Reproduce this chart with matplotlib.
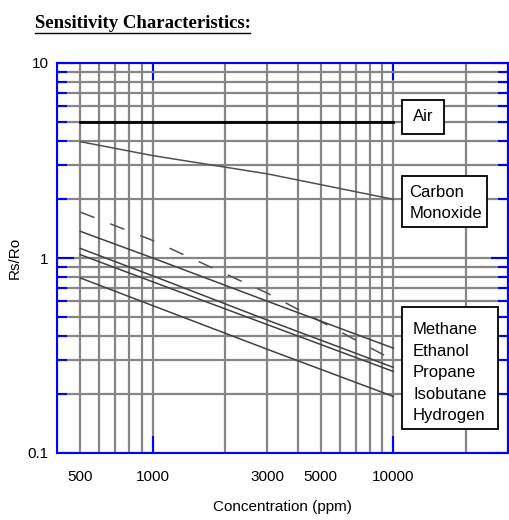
import matplotlib
matplotlib.use("Agg")
from matplotlib import pyplot as plt
from matplotlib.patches import Rectangle
from matplotlib.lines import Line2D
from matplotlib.ticker import LogLocator, FuncFormatter, NullFormatter
import numpy as np

# concentration points (ppm) and Rs/Ro readings
conc = [500, 1000, 3000, 10000]
air = [5.0, 5.0, 5.0, 5.0]
carbon_monoxide = [3.95, 3.35, 2.7, 2.0]
curve_dashed = [1.72, 1.23, 0.66, 0.30]
curve_1 = [1.37, 1.0, 0.60, 0.345]
curve_2 = [1.12, 0.81, 0.48, 0.275]
curve_3 = [1.04, 0.755, 0.455, 0.262]
curve_4 = [0.79, 0.57, 0.34, 0.195]

xticks_shown = [500, 1000, 3000, 5000, 10000]
gas_labels = ['Methane', 'Ethanol', 'Propane', 'Isobutane', 'Hydrogen']

plt.rcParams['font.family'] = ['Liberation Sans', 'DejaVu Sans']

fig = plt.figure(figsize=(5.09, 5.20), dpi=100)
ax = fig.add_axes([57/509, 1-453/520, 451/509, 390/520])
ax.set_xscale('log')
ax.set_yscale('log')
ax.set_xlim(400, 30000)
ax.set_ylim(0.1, 10)

# grid
ax.xaxis.set_minor_locator(LogLocator(base=10, subs=np.arange(2, 10)))
ax.yaxis.set_minor_locator(LogLocator(base=10, subs=np.arange(2, 10)))
ax.grid(which='both', color='#858585', linewidth=1.6)
ax.set_axisbelow(True)

# curves
ax.plot(conc, air, color='black', linewidth=2.0)
ax.plot(conc, carbon_monoxide, color='#505050', linewidth=1.1)
ax.plot(conc, curve_dashed, color='#505050', linewidth=1.1, dashes=(10, 11))
for c in [curve_1, curve_2, curve_3, curve_4]:
    ax.plot(conc, c, color='#404040', linewidth=1.1)

# ticks
ax.xaxis.set_major_locator(LogLocator(base=10, subs=[1.0]))
ax.xaxis.set_major_formatter(FuncFormatter(lambda v, p: '%d' % v))
ax.xaxis.set_minor_formatter(FuncFormatter(
    lambda v, p: '%d' % round(v) if round(v) in xticks_shown else ''))
ax.yaxis.set_major_formatter(FuncFormatter(lambda v, p: '%g' % v))
ax.yaxis.set_minor_formatter(NullFormatter())

ax.tick_params(axis='x', which='major', direction='in', length=12, width=1.5,
               color='blue', top=True, pad=12, labelsize=11)
ax.tick_params(axis='x', which='minor', length=0, pad=12, labelsize=11)
ax.tick_params(axis='y', which='major', direction='in', length=12, width=1.5,
               color='blue', right=True, pad=6, labelsize=11)
ax.tick_params(axis='y', which='minor', direction='in', length=7, width=1.5,
               color='blue', right=True)

for s in ax.spines.values():
    s.set_color('blue')
    s.set_linewidth(1.5)

ax.set_xlabel('Concentration (ppm)', fontsize=11, labelpad=12)
ax.set_ylabel('Rs/Ro', fontsize=11, labelpad=4)

# label boxes
boxes = [(0.764, 0.818, 0.094, 0.087), (0.764, 0.579, 0.190, 0.130),
         (0.766, 0.061, 0.2115, 0.314)]
for x0, y0, w, h in boxes:
    ax.add_patch(Rectangle((x0, y0), w, h, transform=ax.transAxes,
                           facecolor='white', edgecolor='black',
                           linewidth=1.3, zorder=5, clip_on=False))
ax.text(0.811, 0.864, 'Air', transform=ax.transAxes, ha='center',
        va='center', fontsize=12, zorder=6)
ax.text(0.781, 0.6415, 'Carbon\nMonoxide', transform=ax.transAxes,
        ha='left', va='center', fontsize=12, linespacing=1.5, zorder=6)
ax.text(0.7896, 0.206, '\n'.join(gas_labels), transform=ax.transAxes,
        ha='left', va='center', fontsize=12, linespacing=1.55, zorder=6)

# title with underline
fig.text(35/509, 1-23/520, 'Sensitivity Characteristics:', family='Liberation Serif',
         fontweight='bold', fontsize=13.5, ha='left', va='center')
fig.add_artist(Line2D([35/509, 250/509], [1-32.5/520, 1-32.5/520],
                      color='black', linewidth=1.0))

fig.savefig('out.png', dpi=100)
